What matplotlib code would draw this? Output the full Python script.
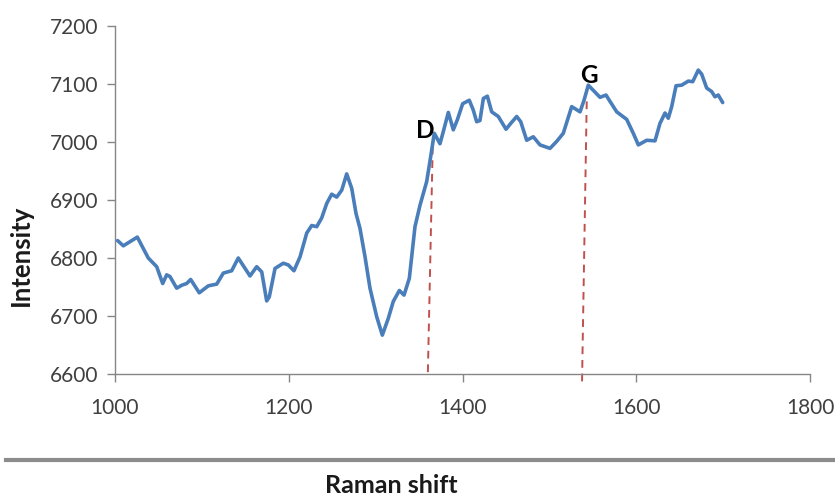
import matplotlib
matplotlib.use("Agg")
import matplotlib.pyplot as plt
from matplotlib.lines import Line2D

plt.rcParams['font.family'] = ['Lato', 'DejaVu Sans']

raman_shift = [1003, 1009.6, 1025.7, 1038.3, 1048, 1054.9, 1059.5, 1063.3, 1071, 1076.8,
               1082.5, 1087.1, 1097, 1107.4, 1117.1, 1124.7, 1134.3, 1141.9, 1155.4, 1163.1,
               1168.9, 1174.6, 1177.6, 1184.2, 1193.7, 1199.5, 1206, 1213, 1220.7, 1226.4,
               1232.2, 1237.9, 1243.7, 1249.4, 1255.2, 1261, 1266.7, 1272.5, 1277.4, 1282,
               1287.8, 1293.5, 1301.2, 1307.7, 1314.6, 1320.3, 1327.3, 1332.7, 1338.8, 1345.3,
               1351.1, 1358.8, 1363.4, 1367.5, 1374.1, 1377.9, 1383.7, 1389.4, 1394, 1400.2,
               1407.8, 1412.4, 1416.3, 1420.1, 1424, 1428.6, 1433.6, 1441.2, 1450.1, 1455.5,
               1462.4, 1467, 1473.9, 1481.5, 1489.2, 1500.7, 1508.4, 1516, 1525.7, 1535.3,
               1539.9, 1544.8, 1550.6, 1558.3, 1565.2, 1569.8, 1577.5, 1589, 1596.6, 1602.4,
               1612, 1621.6, 1627.3, 1633.1, 1636.9, 1640.8, 1645.8, 1652.3, 1659.9, 1665,
               1671.4, 1675.3, 1681.1, 1686.8, 1690.6, 1694.4, 1699.5]
intensity = [6830, 6821, 6836, 6800, 6785, 6756, 6771, 6768, 6748, 6753,
             6756, 6763, 6740, 6752, 6755, 6774, 6778, 6800, 6769, 6785,
             6776, 6726, 6733, 6782, 6791, 6788, 6778, 6802, 6843, 6856,
             6854, 6869, 6894, 6910, 6905, 6917, 6945, 6920, 6877, 6851,
             6802, 6748, 6699, 6667, 6696, 6725, 6744, 6736, 6765, 6854,
             6891, 6932, 6975, 7015, 6997, 7018, 7051, 7021, 7038, 7066,
             7072, 7055, 7035, 7037, 7075, 7079, 7052, 7044, 7022, 7032,
             7044, 7035, 7003, 7009, 6995, 6989, 7001, 7015, 7061, 7052,
             7072, 7098, 7089, 7077, 7081, 7070, 7052, 7039, 7015, 6995,
             7003, 7002, 7032, 7050, 7041, 7061, 7097, 7098, 7105, 7104,
             7124, 7117, 7093, 7087, 7078, 7081, 7068]

peak_labels = ['D', 'G']
peak_label_x = [1356.8, 1545.6]
peak_label_y = [7019, 7114]
peak_line_x = [(1365.7, 1360), (1543, 1537.5)]
peak_line_y = [(6992, 6593), (7070, 6578)]

x_ticks = [1000, 1200, 1400, 1600, 1800]
y_ticks = [6600, 6700, 6800, 6900, 7000, 7100, 7200]

fig = plt.figure(figsize=(8.35, 4.99), dpi=100)
ax = fig.add_axes([115/835, 1-374/499, 695/835, 348/499])

ax.plot(raman_shift, intensity, color='#4A7EBB', lw=2.6, solid_joinstyle='round',
        solid_capstyle='round', zorder=3)

for lx, ly in zip(peak_line_x, peak_line_y):
    ax.plot(lx, ly, color='#C0504D', lw=1.4, ls=(0, (4, 3)), clip_on=False, zorder=2)
for t, tx, ty in zip(peak_labels, peak_label_x, peak_label_y):
    ax.text(tx, ty, t, fontsize=17.5, fontweight='bold', ha='center', va='center',
            color='black', zorder=4)

ax.set_xlim(1000, 1800)
ax.set_ylim(6600, 7200)
ax.set_xticks(x_ticks)
ax.set_yticks(y_ticks)
ax.tick_params(axis='both', direction='out', length=6, width=1, color='#868686',
               labelsize=15, labelcolor='#404040')
ax.tick_params(axis='x', pad=11)
ax.tick_params(axis='y', pad=6)
for s in ['top', 'right']:
    ax.spines[s].set_visible(False)
for s in ['left', 'bottom']:
    ax.spines[s].set_color('#868686')
    ax.spines[s].set_linewidth(1)

fig.add_artist(Line2D([6/835, 1.0], [1-459.5/499, 1-459.5/499], transform=fig.transFigure,
                      color='#8c8c8c', lw=3))
fig.text(391/835, 2/499, 'Raman shift', fontsize=18, fontweight='bold',
         ha='center', va='bottom', color='#1a1a1a')
fig.text(21/835, 1-255/499, 'Intensity', fontsize=18.5, fontweight='bold', rotation=90,
         ha='center', va='center', color='#1a1a1a')

fig.savefig('out.png', dpi=100)
